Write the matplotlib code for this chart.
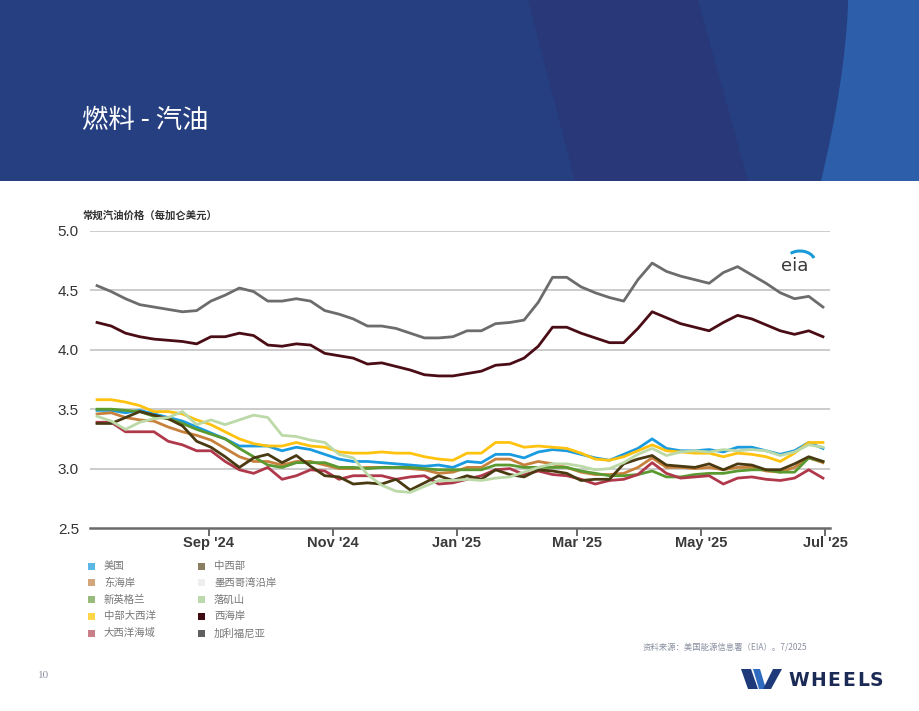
import matplotlib
matplotlib.use("Agg")
import numpy as np
import pandas as pd
import matplotlib.pyplot as plt
from matplotlib.patches import Polygon, Rectangle, Arc

plt.rcParams['font.family'] = ['Liberation Sans', 'Noto Sans CJK SC', 'DejaVu Sans']
CJK = ['Noto Sans CJK SC', 'DejaVu Sans']

# weekly regular gasoline prices, $/gal
dates = pd.date_range('2024-07-08', periods=52, freq='7D')

us = [3.49, 3.49, 3.47, 3.49, 3.46, 3.43, 3.40, 3.35, 3.30, 3.25, 3.19, 3.19, 3.19,
      3.15, 3.18, 3.16, 3.12, 3.08, 3.06, 3.06, 3.05, 3.04, 3.03, 3.02, 3.03, 3.01,
      3.06, 3.05, 3.12, 3.12, 3.09, 3.14, 3.16, 3.15, 3.12, 3.09, 3.07, 3.12, 3.17,
      3.25, 3.17, 3.15, 3.15, 3.16, 3.14, 3.18, 3.18, 3.15, 3.12, 3.15, 3.22, 3.17]
east_coast = [3.46, 3.47, 3.43, 3.41, 3.40, 3.35, 3.31, 3.28, 3.24, 3.17, 3.10, 3.06, 3.06,
              3.03, 3.06, 3.06, 3.03, 3.00, 3.00, 3.01, 3.01, 3.01, 3.00, 2.99, 2.96, 2.97,
              3.01, 3.01, 3.08, 3.08, 3.03, 3.06, 3.04, 3.01, 2.97, 2.95, 2.95, 2.96, 3.01,
              3.09, 3.01, 3.01, 3.00, 3.01, 2.99, 3.01, 3.01, 2.98, 2.97, 3.01, 3.09, 3.05]
new_england = [3.50, 3.50, 3.49, 3.48, 3.44, 3.42, 3.38, 3.33, 3.29, 3.25, 3.17, 3.10, 3.03,
               3.01, 3.05, 3.05, 3.05, 3.01, 3.01, 3.00, 3.01, 3.01, 3.01, 3.00, 2.99, 2.99,
               2.99, 2.99, 3.03, 3.03, 3.01, 3.01, 3.01, 3.01, 2.98, 2.96, 2.94, 2.94, 2.95,
               2.98, 2.93, 2.93, 2.95, 2.96, 2.96, 2.98, 2.99, 2.99, 2.97, 2.97, 3.09, 3.06]
central_atlantic = [3.58, 3.58, 3.56, 3.53, 3.48, 3.48, 3.46, 3.41, 3.37, 3.31, 3.25, 3.21, 3.19,
                    3.19, 3.22, 3.19, 3.18, 3.14, 3.13, 3.13, 3.14, 3.13, 3.13, 3.10, 3.08, 3.07,
                    3.13, 3.13, 3.22, 3.22, 3.18, 3.19, 3.18, 3.17, 3.13, 3.08, 3.07, 3.10, 3.15,
                    3.20, 3.15, 3.14, 3.13, 3.13, 3.10, 3.13, 3.12, 3.10, 3.06, 3.13, 3.22, 3.22]
lower_atlantic = [3.39, 3.39, 3.31, 3.31, 3.31, 3.23, 3.20, 3.15, 3.15, 3.06, 2.99, 2.96, 3.01,
                  2.91, 2.94, 2.99, 2.98, 2.91, 2.94, 2.94, 2.94, 2.91, 2.93, 2.94, 2.87, 2.88,
                  2.91, 2.94, 2.99, 3.00, 2.95, 2.98, 2.95, 2.94, 2.91, 2.87, 2.90, 2.91, 2.95,
                  3.05, 2.96, 2.92, 2.93, 2.94, 2.87, 2.92, 2.93, 2.91, 2.90, 2.92, 2.99, 2.92]
midwest = [3.38, 3.38, 3.43, 3.48, 3.45, 3.42, 3.36, 3.23, 3.18, 3.10, 3.01, 3.09, 3.12,
           3.05, 3.11, 3.02, 2.94, 2.93, 2.87, 2.88, 2.87, 2.91, 2.82, 2.88, 2.94, 2.90,
           2.94, 2.91, 2.99, 2.95, 2.93, 2.99, 2.98, 2.96, 2.90, 2.91, 2.91, 3.04, 3.08,
           3.11, 3.03, 3.02, 3.01, 3.04, 2.99, 3.04, 3.03, 2.99, 2.99, 3.04, 3.10, 3.06]
rocky_mountain = [3.44, 3.40, 3.33, 3.39, 3.42, 3.43, 3.48, 3.37, 3.41, 3.37, 3.41, 3.45, 3.43,
                  3.28, 3.27, 3.24, 3.22, 3.12, 3.09, 2.95, 2.86, 2.81, 2.80, 2.85, 2.90, 2.90,
                  2.91, 2.90, 2.92, 2.93, 2.97, 3.01, 3.04, 3.04, 3.02, 2.99, 3.00, 3.05, 3.12,
                  3.17, 3.11, 3.14, 3.15, 3.14, 3.16, 3.15, 3.16, 3.15, 3.11, 3.14, 3.20, 3.18]
west_coast = [4.23, 4.20, 4.14, 4.11, 4.09, 4.08, 4.07, 4.05, 4.11, 4.11, 4.14, 4.12, 4.04,
              4.03, 4.05, 4.04, 3.97, 3.95, 3.93, 3.88, 3.89, 3.86, 3.83, 3.79, 3.78, 3.78,
              3.80, 3.82, 3.87, 3.88, 3.93, 4.03, 4.19, 4.19, 4.14, 4.10, 4.06, 4.06, 4.18,
              4.32, 4.27, 4.22, 4.19, 4.16, 4.23, 4.29, 4.26, 4.21, 4.16, 4.13, 4.16, 4.11]
california = [4.54, 4.49, 4.43, 4.38, 4.36, 4.34, 4.32, 4.33, 4.41, 4.46, 4.52, 4.49, 4.41,
              4.41, 4.43, 4.41, 4.33, 4.30, 4.26, 4.20, 4.20, 4.18, 4.14, 4.10, 4.10, 4.11,
              4.16, 4.16, 4.22, 4.23, 4.25, 4.40, 4.61, 4.61, 4.53, 4.48, 4.44, 4.41, 4.59,
              4.73, 4.66, 4.62, 4.59, 4.56, 4.65, 4.70, 4.63, 4.56, 4.48, 4.43, 4.45, 4.36]

legend_names = ['美国', '东海岸', '新英格兰', '中部大西洋', '大西洋海域',
                '中西部', '墨西哥湾沿岸', '落矶山', '西海岸', '加利福尼亚']
legend_colors = ['#5ab7e6', '#d2a57a', '#98bb7c', '#fed648', '#c97f88',
                 '#8a7f60', '#eeeeee', '#bcd8ad', '#3f0b12', '#606060']

# drawn series (Gulf Coast is switched off in the source chart)
series = [(us, '#1a9be0'), (east_coast, '#c7813c'), (new_england, '#5a9a30'),
          (central_atlantic, '#ffc20e'), (lower_atlantic, '#b0384b'), (midwest, '#4a3a12'),
          (rocky_mountain, '#bcd9a8'), (west_coast, '#4a0c15'), (california, '#6c6c6c')]

W, H = 920, 711
fig = plt.figure(figsize=(W / 100, H / 100), dpi=100)


def px(x, y):
    return (x / W, 1 - y / H)


# header band
fig.patches.append(Rectangle(px(0, 181), 1, 181 / H, transform=fig.transFigure,
                             facecolor='#253f80', edgecolor='none'))
fig.patches.append(Polygon([px(528, 0), px(698, 0), px(748, 181), px(575, 181)],
                           transform=fig.transFigure, facecolor='#283878', edgecolor='none'))
yy = np.linspace(0, 181, 30)
edge = [px(848 - 27 * (y / 181) ** 1.6, y) for y in yy]
fig.patches.append(Polygon(edge + [px(920, 181), px(920, 0)], transform=fig.transFigure,
                           facecolor='#2d5ea9', edgecolor='none'))
fig.text(82 / W, 1 - 121 / H, '燃料 - 汽油', color='white', fontsize=19, family=CJK,
         va='center', ha='left', weight='light')

# chart
ax = fig.add_axes([90 / W, (H - 528) / H, 740 / W, (528 - 231) / H])
for vals, c in series:
    ax.plot(dates, vals, color=c, lw=2.0)

ax.set_ylim(2.5, 5.0)
ax.set_xlim(pd.Timestamp('2024-07-04 13:00'), pd.Timestamp('2025-07-03 11:00'))
ax.set_yticks([2.5, 3.0, 3.5, 4.0, 4.5, 5.0])
ax.set_yticklabels(['2.5', '3.0', '3.5', '4.0', '4.5', '5.0'])
for g in [3.0, 3.5, 4.0, 4.5, 5.0]:
    ax.axhline(g, color='#c8c8c8', lw=1.3, zorder=0)
xt = pd.to_datetime(['2024-09-01', '2024-11-01', '2025-01-01', '2025-03-01', '2025-05-01', '2025-07-01'])
ax.set_xticks(xt)
ax.set_xticklabels(["Sep '24", "Nov '24", "Jan '25", "Mar '25", "May '25", "Jul '25"],
                   fontweight='bold')
for s in ['top', 'right', 'left']:
    ax.spines[s].set_visible(False)
ax.spines['bottom'].set_color('#6a6a6a')
ax.spines['bottom'].set_linewidth(1.8)
ax.tick_params(axis='y', length=0, pad=8, labelsize=11, labelcolor='#333333')
ax.tick_params(axis='x', length=6, width=1.4, color='#6a6a6a', pad=0,
               labelsize=10.5, labelcolor='#3a3a3a')

fig.text(82 / W, 1 - 216 / H, '常规汽油价格（每加仑美元）', fontsize=7.5, family=CJK,
         weight='bold', color='#333333', va='center')

# eia logo
fig.text(795 / W, 1 - 266 / H, 'eia', fontsize=13, color='#3a3a3a', ha='center', va='center',
         family='DejaVu Sans')
fig.patches.append(Arc(px(800, 262), 30 / W, 22 / H, theta1=20, theta2=130,
                       transform=fig.transFigure, color='#1b9ad8', lw=2.2))

# legend
for k, (name, c) in enumerate(zip(legend_names, legend_colors)):
    col, row = divmod(k, 5)
    x0 = 88 + col * 110
    y0 = 566 + row * 16.8
    fig.patches.append(Rectangle(px(x0, y0 + 3.5), 7 / W, 7 / H, transform=fig.transFigure,
                                 facecolor=c, edgecolor='none'))
    fig.text((x0 + 16) / W, 1 - y0 / H, name, fontsize=7.5, family=CJK, color='#777777',
             va='center')

fig.text(643 / W, 1 - 647 / H, '资料来源：美国能源信息署（EIA）。7/2025', fontsize=6,
         family=CJK, color='#8a90a0', va='center')
fig.text(38 / W, 1 - 676 / H, '10', fontsize=8, family='Liberation Serif', color='#8a90a0',
         va='center')

# wheels logo
fig.patches.append(Polygon([px(741, 669), px(751, 669), px(758, 689), px(748, 689)],
                           transform=fig.transFigure, facecolor='#1e3a7a', edgecolor='none'))
fig.patches.append(Polygon([px(753, 669), px(760, 669), px(766, 689), px(759, 689)],
                           transform=fig.transFigure, facecolor='#2f6cc0', edgecolor='none'))
fig.patches.append(Polygon([px(763, 689), px(771, 689), px(782, 669), px(773, 669)],
                           transform=fig.transFigure, facecolor='#1e3a7a', edgecolor='none'))
for ch, cx in zip('WHEELS', [799, 818, 834, 849, 863, 876]):
    fig.text(cx / W, 1 - 680 / H, ch, fontsize=13.5, weight='bold', color='#1b2b55',
             family='DejaVu Sans', va='center', ha='center')

fig.savefig('out.png', dpi=100)
